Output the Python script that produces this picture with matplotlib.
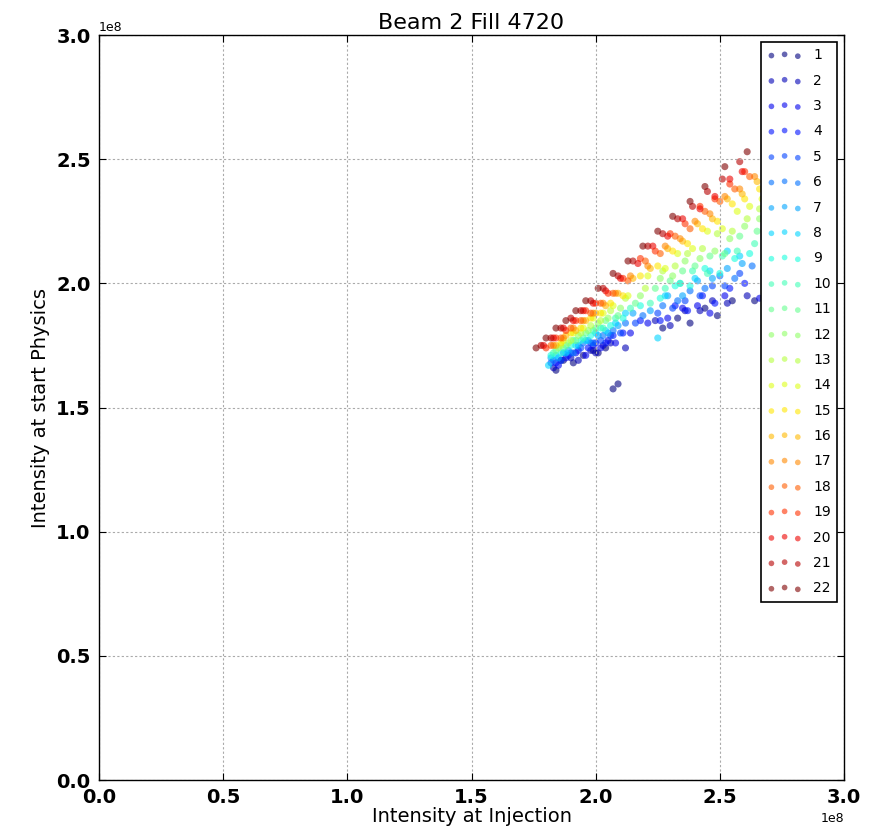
import matplotlib
matplotlib.use("Agg")
import matplotlib.pyplot as plt
from matplotlib import cm

groups = [str(i) for i in range(1, 23)]

x1 = [1.84,1.87,1.91,1.95,1.99,2.01,2.04,2.07,2.09,2.27,2.33,2.38,2.44,2.49,2.55,2.64]
y1 = [1.65,1.69,1.68,1.71,1.73,1.72,1.74,1.575,1.595,1.82,1.86,1.84,1.90,1.87,1.93,1.93]
x2 = [1.83,1.86,1.90,1.93,1.98,2.00,2.03,2.06,2.12,2.24,2.30,2.36,2.42,2.47,2.53,2.61]
y2 = [1.66,1.69,1.70,1.69,1.73,1.72,1.75,1.76,1.74,1.85,1.83,1.89,1.89,1.93,1.92,1.95]
x3 = [1.85,1.88,1.92,1.96,1.99,2.02,2.05,2.08,2.14,2.21,2.29,2.35,2.41,2.46,2.52,2.66]
y3 = [1.67,1.70,1.72,1.71,1.75,1.74,1.77,1.76,1.80,1.84,1.86,1.90,1.91,1.88,1.95,1.94]
x4 = [1.84,1.89,1.93,1.97,2.00,2.04,2.07,2.11,2.18,2.26,2.32,2.37,2.43,2.48,2.54,2.60]
y4 = [1.68,1.71,1.73,1.74,1.76,1.76,1.79,1.80,1.85,1.85,1.91,1.89,1.95,1.92,1.98,2.00]
x5 = [1.82,1.86,1.90,1.94,1.98,2.02,2.06,2.10,2.16,2.25,2.31,2.36,2.42,2.47,2.52,2.58]
y5 = [1.68,1.69,1.72,1.74,1.76,1.77,1.79,1.80,1.84,1.88,1.90,1.93,1.95,1.99,1.99,2.04]
x6 = [1.83,1.87,1.91,1.95,1.99,2.03,2.07,2.12,2.19,2.27,2.33,2.38,2.44,2.50,2.56,2.63]
y6 = [1.69,1.72,1.72,1.76,1.76,1.79,1.81,1.84,1.87,1.91,1.93,1.97,1.98,2.03,2.02,2.07]
x7 = [1.82,1.85,1.89,1.93,1.97,2.01,2.05,2.09,2.15,2.22,2.29,2.35,2.41,2.47,2.53,2.59]
y7 = [1.70,1.70,1.73,1.75,1.77,1.79,1.80,1.83,1.88,1.89,1.95,1.95,2.01,2.02,2.06,2.08]
x8 = [1.81,1.84,1.88,1.92,1.96,2.00,2.04,2.08,2.12,2.25,2.28,2.34,2.40,2.46,2.53,2.58]
y8 = [1.67,1.71,1.72,1.75,1.77,1.80,1.81,1.84,1.88,1.78,1.95,2.00,2.02,2.05,2.13,2.11]
x9 = [1.82,1.86,1.90,1.94,1.98,2.02,2.06,2.11,2.18,2.26,2.32,2.38,2.44,2.50,2.56,2.62]
y9 = [1.71,1.72,1.75,1.77,1.79,1.82,1.83,1.86,1.91,1.94,1.99,1.99,2.06,2.04,2.10,2.12]
x10 = [1.83,1.87,1.91,1.95,1.99,2.03,2.08,2.14,2.22,2.28,2.34,2.39,2.45,2.51,2.57,2.64]
y10 = [1.72,1.74,1.77,1.78,1.81,1.82,1.86,1.90,1.92,1.98,2.00,2.05,2.04,2.11,2.13,2.16]
x11 = [1.84,1.88,1.92,1.96,2.00,2.04,2.09,2.16,2.24,2.30,2.35,2.40,2.46,2.52,2.58,2.65]
y11 = [1.73,1.75,1.77,1.80,1.82,1.85,1.87,1.92,1.98,2.01,2.05,2.07,2.11,2.12,2.19,2.21]
x12 = [1.85,1.89,1.93,1.97,2.01,2.05,2.10,2.18,2.26,2.31,2.36,2.42,2.48,2.54,2.60,2.66]
y12 = [1.74,1.76,1.79,1.81,1.84,1.86,1.90,1.95,2.02,2.03,2.09,2.10,2.13,2.18,2.23,2.26]
x13 = [1.86,1.90,1.94,1.98,2.02,2.06,2.12,2.20,2.27,2.32,2.37,2.43,2.49,2.55,2.61,2.66]
y13 = [1.75,1.77,1.80,1.83,1.85,1.89,1.94,1.98,2.05,2.07,2.12,2.14,2.20,2.21,2.26,2.30]
x14 = [1.87,1.91,1.95,1.99,2.03,2.07,2.13,2.21,2.28,2.33,2.39,2.45,2.51,2.57,2.62,2.67]
y14 = [1.77,1.80,1.82,1.86,1.88,1.91,1.95,2.03,2.06,2.12,2.14,2.21,2.22,2.29,2.31,2.34]
x15 = [1.86,1.90,1.94,1.98,2.02,2.06,2.11,2.18,2.25,2.31,2.37,2.43,2.49,2.55,2.60,2.66]
y15 = [1.76,1.80,1.82,1.86,1.88,1.92,1.95,2.03,2.07,2.13,2.16,2.22,2.25,2.32,2.34,2.38]
x16 = [1.84,1.88,1.92,1.96,2.00,2.04,2.09,2.15,2.22,2.29,2.35,2.41,2.47,2.53,2.59,2.65]
y16 = [1.75,1.79,1.81,1.85,1.88,1.91,1.96,2.02,2.06,2.14,2.17,2.24,2.26,2.34,2.36,2.41]
x17 = [1.83,1.87,1.91,1.95,1.99,2.03,2.08,2.14,2.21,2.28,2.34,2.40,2.46,2.52,2.58,2.64]
y17 = [1.75,1.78,1.82,1.85,1.88,1.92,1.96,2.03,2.07,2.15,2.18,2.25,2.28,2.35,2.38,2.43]
x18 = [1.82,1.86,1.90,1.94,1.98,2.02,2.07,2.13,2.20,2.26,2.32,2.38,2.44,2.50,2.56,2.62]
y18 = [1.75,1.78,1.82,1.85,1.88,1.92,1.96,2.01,2.09,2.12,2.19,2.22,2.29,2.33,2.38,2.43]
x19 = [1.80,1.84,1.88,1.92,1.96,2.00,2.05,2.11,2.18,2.24,2.30,2.36,2.42,2.48,2.54,2.60]
y19 = [1.74,1.78,1.81,1.85,1.89,1.92,1.96,2.02,2.10,2.13,2.20,2.24,2.31,2.34,2.40,2.45]
x20 = [1.79,1.83,1.87,1.91,1.95,1.99,2.04,2.10,2.17,2.23,2.29,2.35,2.42,2.48,2.54,2.59]
y20 = [1.75,1.78,1.82,1.85,1.89,1.92,1.97,2.02,2.08,2.15,2.19,2.26,2.30,2.35,2.42,2.45]
x21 = [1.78,1.82,1.86,1.90,1.94,1.98,2.03,2.09,2.15,2.21,2.27,2.33,2.39,2.45,2.51,2.58]
y21 = [1.75,1.78,1.82,1.86,1.89,1.93,1.98,2.03,2.09,2.15,2.20,2.26,2.31,2.37,2.42,2.49]
x22 = [1.76,1.80,1.84,1.88,1.92,1.96,2.01,2.07,2.13,2.19,2.25,2.31,2.38,2.44,2.52,2.61]
y22 = [1.74,1.78,1.82,1.85,1.89,1.93,1.98,2.04,2.09,2.15,2.21,2.27,2.33,2.39,2.47,2.53]

xs = [x1,x2,x3,x4,x5,x6,x7,x8,x9,x10,x11,x12,x13,x14,x15,x16,x17,x18,x19,x20,x21,x22]
ys = [y1,y2,y3,y4,y5,y6,y7,y8,y9,y10,y11,y12,y13,y14,y15,y16,y17,y18,y19,y20,y21,y22]
scale = 1e8

fig = plt.figure(figsize=(8.77, 8.38), dpi=100)
ax = fig.add_axes([0.1129, 0.0692, 0.8495, 0.889])
n = len(groups)
for i, (g, xv, yv) in enumerate(zip(groups, xs, ys)):
    c = cm.jet(i / (n - 1))
    ax.scatter([v * scale for v in xv], [v * scale for v in yv], s=26, color=c,
               alpha=0.6, edgecolors='none', label=g)

ax.set_xlim(0, 3e8)
ax.set_ylim(0, 3e8)
ax.set_xticks([0, 0.5e8, 1e8, 1.5e8, 2e8, 2.5e8, 3e8])
ax.set_yticks([0, 0.5e8, 1e8, 1.5e8, 2e8, 2.5e8, 3e8])
ax.grid(True, color='#aaaaaa', linestyle=(0, (2, 2)), linewidth=0.8)
ax.tick_params(direction='in', top=True, right=True, length=5, labelsize=14, pad=6)
for lab in ax.get_xticklabels() + ax.get_yticklabels():
    lab.set_fontweight('bold')
ax.xaxis.get_offset_text().set_fontsize(9)
ax.yaxis.get_offset_text().set_fontsize(9)
for sp in ax.spines.values():
    sp.set_linewidth(1.0)
ax.set_title('Beam 2 Fill 4720', fontsize=16, pad=4)
ax.set_xlabel('Intensity at Injection', fontsize=14, labelpad=0)
ax.set_ylabel('Intensity at start Physics', fontsize=14, labelpad=4)
leg = ax.legend(loc='upper right', scatterpoints=3, fontsize=10, fancybox=False,
                framealpha=1, edgecolor='black', labelspacing=0.82,
                borderaxespad=0.5, handletextpad=0.8, borderpad=0.45,
                handlelength=2.5, markerscale=0.8)
leg.get_frame().set_linewidth(1.2)
fig.savefig('out.png', dpi=100)
